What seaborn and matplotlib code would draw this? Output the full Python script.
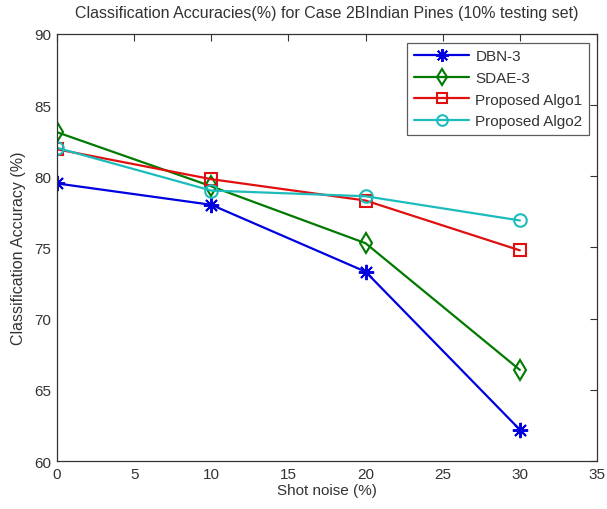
import matplotlib
matplotlib.use("Agg")
import matplotlib.pyplot as plt
import seaborn as sns
import pandas as pd

noise = [0, 10, 20, 30]
dbn3 = [79.5, 78.0, 73.3, 62.2]
sdae3 = [83.1, 79.3, 75.3, 66.4]
algo1 = [81.9, 79.8, 78.3, 74.8]
algo2 = [82.0, 79.0, 78.6, 76.9]
methods = ["DBN-3", "SDAE-3", "Proposed Algo1", "Proposed Algo2"]
colors = ["#0000e0", "#007a00", "#e01010", "#1cbcbc"]
marks = [(8, 2, 0), "d", "s", "o"]

xticks = [0, 5, 10, 15, 20, 25, 30, 35]
yticks = [60, 65, 70, 75, 80, 85, 90]

rows = []
for name, vals in zip(methods, [dbn3, sdae3, algo1, algo2]):
    for x, v in zip(noise, vals):
        rows.append({"noise": x, "acc": v, "method": name})
df = pd.DataFrame(rows)

sns.set_style("white")
plt.rcParams["font.family"] = ["Liberation Sans", "DejaVu Sans"]

fig = plt.figure(figsize=(6.07, 5.10), dpi=100)
ax = fig.add_axes([0.0939, 0.0941, 0.8896, 0.8373])

sns.lineplot(data=df, x="noise", y="acc", hue="method", style="method",
             hue_order=methods, style_order=methods,
             palette=dict(zip(methods, colors)),
             markers=["o", "d", "s", "o"], dashes=False,
             markersize=9, linewidth=1.6, legend=False, ax=ax)

# MATLAB-style open markers; the first series uses an asterisk
for line, m in zip(ax.get_lines(), marks):
    line.set_marker(m)
    line.set_markerfacecolor("none")
    line.set_markeredgecolor(line.get_color())
    line.set_markeredgewidth(1.5)
    if m == "d":
        line.set_markersize(10)
    if isinstance(m, tuple):
        line.set_markersize(11)
        line.set_markeredgewidth(1.4)

ax.set_xlim(0, 35)
ax.set_ylim(60, 90)
ax.set_xticks(xticks)
ax.set_yticks(yticks)
ax.tick_params(direction="in", top=True, right=True, length=5, width=0.8,
               labelsize=11, colors="#333333", pad=4)
for s in ax.spines.values():
    s.set_color("#333333")
    s.set_linewidth(0.9)

ax.set_xlabel("Shot noise (%)", fontsize=11, color="#333333", labelpad=2)
ax.set_ylabel("Classification Accuracy (%)", fontsize=11.5, color="#333333", labelpad=6)
ax.set_title("Classification Accuracies(%) for Case 2BIndian Pines (10% testing set)",
             fontsize=11.5, color="#333333", pad=12)

leg = ax.legend(ax.get_lines()[:4], methods, loc="upper right",
                bbox_to_anchor=(0.986, 0.98), fontsize=11, frameon=True,
                fancybox=False, edgecolor="#333333", handlelength=3.6,
                borderpad=0.45, labelspacing=0.5, handletextpad=0.4,
                borderaxespad=0.0, markerscale=0.85)
leg.get_frame().set_linewidth(0.9)
for t in leg.get_texts():
    t.set_color("#333333")

fig.savefig("out.png", dpi=100)
